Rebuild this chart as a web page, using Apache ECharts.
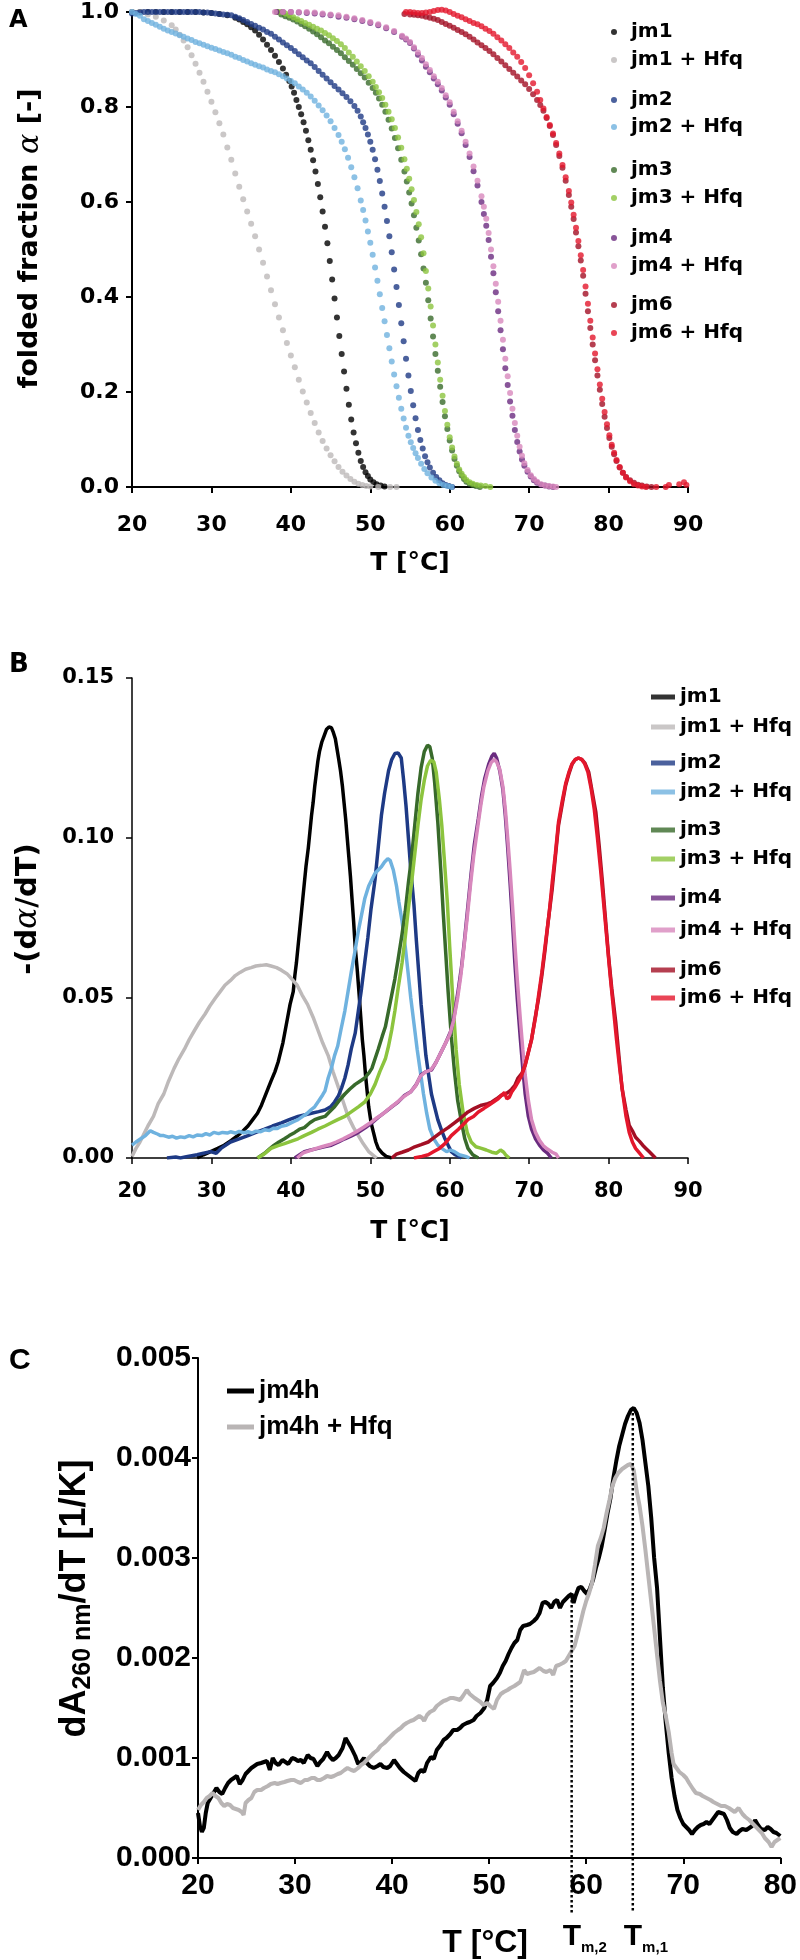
<!DOCTYPE html>
<html>
<head>
<meta charset="utf-8">
<script src="https://cdn.jsdelivr.net/npm/echarts@6/dist/echarts.min.js"></script>
<style>
  html, body { margin: 0; padding: 0; background: #fff; }
  #chart { width: 800px; height: 1960px; }
</style>
</head>
<body>
<div id="chart"></div>
<script>
// ---- series names / colours (panels A and B) ----
const seriesNames = ['jm1', 'jm1 + Hfq', 'jm2', 'jm2 + Hfq', 'jm3', 'jm3 + Hfq', 'jm4', 'jm4 + Hfq', 'jm6', 'jm6 + Hfq'];
const seriesColors = ['#000000', '#bdb9b9', '#1e3a85', '#6fb2df', '#386a2b', '#8cc43e', '#6a2b7f', '#d888bd', '#a30f24', '#e4172c'];

// ---- panel A: folded fraction alpha vs T ----
const foldJm1 = [[20,1.0],[21,1.0],[22,1.0],[23,1.0],[24,1.0],[25,1.0],[26,1.0],[27,1.0],[28,1.0],[29,0.999],[30,0.998],[31,0.996],[32,0.993],[33,0.988],[33.5,0.984],[34,0.979],[34.5,0.974],[35,0.968],[35.5,0.961],[36,0.952],[36.5,0.942],[37,0.931],[37.5,0.92],[38,0.908],[38.5,0.895],[39,0.881],[39.4,0.868],[39.8,0.855],[40.1,0.843],[40.4,0.83],[40.7,0.815],[41.0,0.8],[41.3,0.785],[41.6,0.768],[41.9,0.75],[42.2,0.73],[42.5,0.71],[42.8,0.688],[43.1,0.664],[43.4,0.638],[43.7,0.61],[44.0,0.58],[44.3,0.548],[44.6,0.513],[44.9,0.476],[45.2,0.437],[45.5,0.397],[45.8,0.357],[46.1,0.318],[46.4,0.28],[46.7,0.243],[47.0,0.207],[47.3,0.173],[47.6,0.142],[47.9,0.115],[48.2,0.092],[48.5,0.072],[48.8,0.055],[49.1,0.042],[49.4,0.031],[49.7,0.023],[50.0,0.016],[50.4,0.01],[50.8,0.006],[51.3,0.003],[51.8,0.001]];
const foldJm1Hfq = [[20,1.0],[21,1.0],[22,0.995],[23,0.99],[24,0.982],[25,0.972],[25.5,0.963],[26,0.952],[26.5,0.94],[27,0.926],[27.5,0.909],[28,0.891],[28.5,0.872],[29,0.853],[29.5,0.832],[30,0.811],[30.5,0.789],[31,0.766],[31.5,0.742],[32,0.715],[32.5,0.689],[33,0.66],[33.5,0.632],[34,0.606],[34.5,0.58],[35,0.554],[35.5,0.528],[36,0.5],[36.5,0.472],[37,0.443],[37.5,0.414],[38,0.385],[38.5,0.357],[39,0.33],[39.5,0.303],[40,0.277],[40.5,0.252],[41,0.226],[41.5,0.201],[42,0.178],[42.5,0.156],[43,0.135],[43.5,0.115],[44,0.097],[44.5,0.081],[45,0.067],[45.5,0.054],[46,0.042],[46.5,0.032],[47,0.024],[47.5,0.017],[48,0.011],[48.5,0.007],[49,0.004],[49.5,0.002],[50,0.001],[51,0.0],[52.5,0.0],[53.3,0.0]];
const foldJm2 = [[20,0.997],[20.5,0.998],[21,0.999],[21.5,1.0],[22,1.0],[22.5,1.0],[23,1.0],[23.5,1.0],[24,1.0],[24.5,1.0],[25,1.0],[25.5,1.0],[26,1.0],[26.5,1.0],[27,1.0],[27.5,1.0],[28,1.0],[28.5,1.0],[29,0.999],[29.5,0.999],[30,0.998],[30.5,0.997],[31,0.996],[31.5,0.995],[32,0.994],[32.5,0.993],[33,0.99],[33.5,0.987],[34,0.983],[34.5,0.979],[35,0.975],[35.5,0.971],[36,0.967],[36.5,0.963],[37,0.958],[37.5,0.954],[38,0.948],[38.5,0.942],[39,0.936],[39.5,0.93],[40,0.924],[40.5,0.918],[41,0.911],[41.5,0.905],[42,0.898],[42.5,0.892],[43,0.884],[43.5,0.876],[44,0.868],[44.5,0.86],[45,0.852],[45.5,0.844],[46,0.837],[46.5,0.829],[47,0.821],[47.5,0.812],[48,0.802],[48.4,0.792],[48.8,0.78],[49.1,0.768],[49.4,0.756],[49.7,0.742],[50.0,0.727],[50.3,0.71],[50.6,0.69],[50.9,0.668],[51.2,0.644],[51.5,0.618],[51.8,0.59],[52.1,0.56],[52.4,0.528],[52.7,0.494],[53.0,0.458],[53.3,0.421],[53.6,0.383],[53.9,0.345],[54.2,0.307],[54.5,0.27],[54.8,0.235],[55.1,0.202],[55.4,0.172],[55.7,0.145],[56.0,0.12],[56.3,0.099],[56.6,0.081],[56.9,0.065],[57.2,0.052],[57.5,0.041],[57.9,0.03],[58.3,0.021],[58.7,0.014],[59.1,0.008],[59.5,0.004],[59.9,0.002],[60.3,0.0]];
const foldJm2Hfq = [[20,1.0],[20.5,0.996],[21,0.992],[21.5,0.985],[22,0.981],[22.5,0.977],[23,0.973],[23.5,0.969],[24,0.965],[24.5,0.961],[25,0.958],[25.5,0.955],[26,0.951],[26.5,0.948],[27,0.944],[27.5,0.941],[28,0.937],[28.5,0.934],[29,0.931],[29.5,0.928],[30,0.925],[30.5,0.922],[31,0.919],[31.5,0.916],[32,0.913],[32.5,0.91],[33,0.906],[33.5,0.903],[34,0.899],[34.5,0.896],[35,0.892],[35.5,0.889],[36,0.886],[36.5,0.883],[37,0.879],[37.5,0.876],[38,0.873],[38.5,0.869],[39,0.865],[39.5,0.86],[40,0.855],[40.5,0.85],[41,0.843],[41.5,0.837],[42,0.83],[42.5,0.822],[43,0.813],[43.5,0.803],[44,0.793],[44.5,0.782],[45,0.77],[45.5,0.756],[46,0.741],[46.4,0.727],[46.8,0.711],[47.2,0.693],[47.6,0.673],[48.0,0.652],[48.4,0.629],[48.8,0.603],[49.1,0.583],[49.4,0.561],[49.7,0.538],[50.0,0.514],[50.3,0.489],[50.6,0.462],[50.9,0.434],[51.2,0.406],[51.5,0.377],[51.8,0.349],[52.1,0.32],[52.4,0.292],[52.7,0.264],[53.0,0.237],[53.3,0.212],[53.6,0.188],[53.9,0.165],[54.2,0.144],[54.5,0.125],[54.8,0.108],[55.1,0.094],[55.4,0.082],[55.7,0.071],[56.0,0.061],[56.4,0.049],[56.8,0.038],[57.2,0.029],[57.7,0.02],[58.2,0.013],[58.7,0.008],[59.2,0.004],[59.7,0.002],[60.2,0.0]];
const foldJm3 = [[38.3,1.0],[38.8,0.995],[39.3,0.991],[39.8,0.988],[40.3,0.984],[40.8,0.98],[41.3,0.975],[41.8,0.97],[42.3,0.965],[42.8,0.959],[43.3,0.953],[43.8,0.947],[44.3,0.94],[44.8,0.934],[45.3,0.927],[45.8,0.92],[46.3,0.913],[46.8,0.905],[47.3,0.897],[47.8,0.889],[48.3,0.88],[48.8,0.871],[49.3,0.862],[49.8,0.851],[50.3,0.84],[50.7,0.83],[51.1,0.818],[51.5,0.805],[51.9,0.79],[52.3,0.773],[52.7,0.755],[53.1,0.735],[53.5,0.713],[53.9,0.689],[54.3,0.664],[54.6,0.643],[54.9,0.62],[55.2,0.597],[55.5,0.572],[55.8,0.546],[56.1,0.519],[56.4,0.49],[56.7,0.46],[57.0,0.43],[57.3,0.393],[57.6,0.355],[57.9,0.317],[58.2,0.28],[58.5,0.245],[58.8,0.211],[59.1,0.179],[59.4,0.149],[59.7,0.122],[60.0,0.098],[60.3,0.077],[60.6,0.059],[60.9,0.045],[61.2,0.033],[61.5,0.024],[61.8,0.017],[62.1,0.011],[62.5,0.007],[62.9,0.004],[63.3,0.002],[63.8,0.0]];
const foldJm3Hfq = [[38.3,1.0],[38.8,1.0],[39.3,0.997],[39.8,0.993],[40.3,0.989],[40.8,0.985],[41.3,0.981],[41.8,0.977],[42.3,0.973],[42.8,0.969],[43.3,0.965],[43.8,0.961],[44.3,0.956],[44.8,0.951],[45.3,0.945],[45.8,0.939],[46.3,0.932],[46.8,0.924],[47.3,0.915],[47.8,0.906],[48.3,0.896],[48.8,0.886],[49.3,0.876],[49.8,0.865],[50.3,0.853],[50.7,0.842],[51.1,0.831],[51.5,0.819],[51.9,0.805],[52.3,0.79],[52.7,0.774],[53.1,0.756],[53.5,0.736],[53.9,0.714],[54.3,0.69],[54.6,0.67],[54.9,0.649],[55.2,0.627],[55.5,0.604],[55.8,0.579],[56.1,0.553],[56.4,0.526],[56.7,0.492],[57.0,0.455],[57.3,0.418],[57.6,0.38],[57.9,0.34],[58.2,0.3],[58.5,0.262],[58.8,0.226],[59.1,0.192],[59.4,0.16],[59.7,0.131],[60.0,0.105],[60.3,0.083],[60.6,0.064],[60.9,0.049],[61.2,0.037],[61.5,0.028],[61.8,0.021],[62.1,0.015],[62.5,0.01],[62.9,0.007],[63.4,0.004],[63.9,0.003],[64.5,0.002],[65.1,0.0]];
const foldJm4 = [[38.2,1.0],[39,1.0],[40,1.0],[41,0.999],[42,0.998],[43,0.997],[44,0.995],[45,0.993],[46,0.99],[47,0.988],[48,0.985],[49,0.981],[50,0.977],[51,0.972],[52,0.966],[53,0.958],[54,0.948],[54.5,0.942],[55,0.935],[55.5,0.923],[56,0.91],[56.5,0.898],[57,0.885],[57.5,0.873],[58,0.86],[58.5,0.848],[59,0.835],[59.5,0.82],[60,0.805],[60.5,0.785],[61,0.765],[61.5,0.745],[62,0.72],[62.5,0.695],[63,0.665],[63.5,0.635],[64,0.6],[64.3,0.575],[64.6,0.55],[64.9,0.52],[65.2,0.485],[65.5,0.45],[65.8,0.41],[66.1,0.37],[66.4,0.33],[66.7,0.29],[67.0,0.25],[67.3,0.215],[67.6,0.18],[67.9,0.15],[68.2,0.12],[68.5,0.095],[68.8,0.075],[69.1,0.058],[69.4,0.045],[69.8,0.032],[70.2,0.022],[70.6,0.014],[71.0,0.009],[71.5,0.005],[72.0,0.003],[72.5,0.001],[73.0,0.0]];
const foldJm4Hfq = [[38.0,1.0],[39,1.0],[40,1.0],[41,1.0],[42,1.0],[43,0.999],[44,0.997],[45,0.995],[46,0.993],[47,0.99],[48,0.987],[49,0.983],[50,0.979],[51,0.974],[52,0.968],[53,0.96],[54,0.95],[54.5,0.944],[55,0.937],[55.5,0.926],[56,0.915],[56.5,0.903],[57,0.89],[57.5,0.878],[58,0.865],[58.5,0.853],[59,0.84],[59.5,0.825],[60,0.81],[60.5,0.79],[61,0.77],[61.5,0.75],[62,0.727],[62.5,0.702],[63,0.675],[63.5,0.645],[64,0.612],[64.3,0.59],[64.6,0.565],[64.9,0.535],[65.2,0.5],[65.5,0.465],[65.8,0.428],[66.1,0.39],[66.4,0.35],[66.7,0.31],[67.0,0.27],[67.3,0.233],[67.6,0.198],[67.9,0.165],[68.2,0.135],[68.5,0.108],[68.8,0.085],[69.1,0.066],[69.4,0.05],[69.8,0.036],[70.2,0.025],[70.6,0.017],[71.0,0.011],[71.5,0.006],[72.0,0.003],[72.5,0.002],[73.0,0.001],[73.4,0.0]];
const foldJm6 = [[54.3,0.996],[55,0.995],[55.5,0.994],[56,0.993],[56.5,0.992],[57,0.99],[57.5,0.988],[58,0.986],[58.5,0.983],[59,0.979],[59.5,0.975],[60,0.971],[60.5,0.967],[61,0.962],[61.5,0.958],[62,0.953],[62.5,0.948],[63,0.942],[63.5,0.936],[64,0.93],[64.5,0.924],[65,0.918],[65.5,0.911],[66,0.903],[66.5,0.896],[67,0.888],[67.5,0.88],[68,0.872],[68.5,0.864],[69,0.856],[69.5,0.848],[70,0.838],[70.5,0.827],[71,0.815],[71.4,0.804],[71.8,0.792],[72.2,0.777],[72.6,0.76],[73.0,0.741],[73.4,0.72],[73.8,0.697],[74.2,0.672],[74.6,0.645],[75.0,0.615],[75.3,0.59],[75.6,0.564],[75.9,0.536],[76.2,0.507],[76.5,0.477],[76.8,0.445],[77.1,0.407],[77.4,0.37],[77.7,0.335],[78.0,0.3],[78.3,0.267],[78.6,0.235],[78.9,0.205],[79.2,0.175],[79.5,0.148],[79.8,0.124],[80.1,0.103],[80.4,0.085],[80.7,0.069],[81.0,0.055],[81.4,0.041],[81.8,0.03],[82.2,0.021],[82.7,0.014],[83.2,0.009],[83.7,0.005],[84.2,0.003],[84.8,0.001],[85.4,0.0]];
const foldJm6Hfq = [[54.5,1.0],[55,1.0],[55.5,0.999],[56,0.998],[56.5,0.998],[57,0.999],[57.5,1.0],[58,1.002],[58.5,1.004],[59,1.005],[59.5,1.003],[60,1.0],[60.5,0.996],[61,0.992],[61.5,0.989],[62,0.985],[62.5,0.981],[63,0.977],[63.5,0.974],[64,0.97],[64.5,0.965],[65,0.96],[65.5,0.954],[66,0.947],[66.5,0.94],[67,0.932],[67.5,0.924],[68,0.915],[68.5,0.906],[69,0.895],[69.5,0.882],[70,0.867],[70.5,0.85],[71,0.832],[71.4,0.815],[71.8,0.797],[72.2,0.779],[72.6,0.762],[73.0,0.744],[73.4,0.724],[73.8,0.702],[74.2,0.678],[74.6,0.652],[75.0,0.623],[75.3,0.599],[75.6,0.573],[75.9,0.546],[76.2,0.518],[76.5,0.488],[76.8,0.457],[77.1,0.422],[77.4,0.386],[77.7,0.35],[78.0,0.315],[78.3,0.281],[78.6,0.248],[78.9,0.216],[79.2,0.186],[79.5,0.158],[79.8,0.132],[80.1,0.109],[80.4,0.089],[80.7,0.072],[81.0,0.057],[81.4,0.042],[81.8,0.03],[82.2,0.02],[82.7,0.012],[83.2,0.006],[83.7,0.003],[84.2,0.001],[84.7,0.0],[86.0,0.0],[87.2,0.0],[87.6,0.004],[88.9,0.006],[89.5,0.01],[89.8,0.004]];
const foldSeries = [foldJm1, foldJm1Hfq, foldJm2, foldJm2Hfq, foldJm3, foldJm3Hfq, foldJm4, foldJm4Hfq, foldJm6, foldJm6Hfq];

// ---- panel B: -(d alpha / dT) vs T ----
const derivJm1 = [[28.2,0.0],[29,0.001],[29.9,0.002],[30.8,0.003],[31.6,0.004],[32.5,0.0055],[33.3,0.007],[34,0.0085],[34.6,0.01],[35.2,0.012],[35.8,0.014],[36.3,0.0165],[36.7,0.019],[37.1,0.0215],[37.5,0.024],[38.0,0.027],[38.4,0.03],[38.7,0.033],[39.0,0.036],[39.3,0.04],[39.6,0.044],[39.9,0.048],[40.3,0.052],[40.5,0.057],[40.7,0.061],[40.9,0.066],[41.1,0.071],[41.3,0.076],[41.5,0.081],[41.7,0.086],[41.9,0.091],[42.2,0.097],[42.4,0.102],[42.6,0.107],[42.8,0.111],[43.0,0.116],[43.2,0.12],[43.4,0.124],[43.6,0.127],[43.9,0.13],[44.2,0.132],[44.5,0.134],[44.8,0.1347],[45.1,0.1345],[45.35,0.133],[45.6,0.131],[45.8,0.128],[46.0,0.125],[46.25,0.121],[46.5,0.116],[46.7,0.111],[46.9,0.106],[47.1,0.1],[47.3,0.094],[47.5,0.088],[47.7,0.081],[47.9,0.074],[48.1,0.066],[48.35,0.059],[48.6,0.051],[48.8,0.044],[49.0,0.037],[49.2,0.032],[49.4,0.026],[49.6,0.021],[49.8,0.016],[50.1,0.011],[50.4,0.008],[50.7,0.005],[51.0,0.003],[51.5,0.0015],[52.0,0.0005],[52.7,0.0]];
const derivJm1Hfq = [[20,0.0005],[20.5,0.003],[21,0.005],[21.4,0.007],[22,0.01],[22.7,0.013],[23.3,0.017],[24,0.02],[24.6,0.024],[25.3,0.028],[25.9,0.031],[26.6,0.034],[27.2,0.037],[27.9,0.04],[28.5,0.0425],[29.2,0.045],[29.8,0.0475],[30.5,0.05],[31.1,0.052],[31.7,0.054],[32.4,0.0555],[33,0.057],[33.6,0.058],[34.3,0.059],[35,0.0595],[35.6,0.06],[36.3,0.0602],[36.9,0.0604],[37.5,0.06],[38.2,0.0595],[38.8,0.0587],[39.5,0.0576],[40.1,0.056],[40.8,0.054],[41.4,0.051],[42.1,0.048],[42.8,0.044],[43.4,0.04],[44.0,0.036],[44.7,0.032],[45.3,0.027],[46.0,0.022],[46.6,0.0175],[47.2,0.013],[47.9,0.0095],[48.5,0.007],[49.1,0.0045],[49.8,0.002],[50.3,0.001],[50.8,0.0]];
const derivJm2 = [[24.4,0.0],[25.5,0.0003],[26.1,0.0],[27,0.0005],[28.2,0.001],[29.0,0.0015],[29.9,0.002],[30.6,0.0015],[31.2,0.003],[32.4,0.005],[33.5,0.006],[34.6,0.007],[35.6,0.008],[36.7,0.009],[37.7,0.01],[38.8,0.011],[39.8,0.012],[40.9,0.013],[41.8,0.0135],[42.6,0.014],[43.5,0.0145],[44.3,0.015],[45.0,0.016],[45.5,0.0175],[46.0,0.0195],[46.4,0.022],[46.8,0.025],[47.2,0.029],[47.6,0.034],[48.1,0.039],[48.5,0.046],[48.9,0.053],[49.3,0.061],[49.7,0.069],[50.1,0.078],[50.6,0.087],[51.0,0.097],[51.4,0.107],[51.8,0.114],[52.3,0.121],[52.7,0.1245],[53.1,0.1264],[53.5,0.1266],[53.9,0.125],[54.2,0.118],[54.5,0.11],[54.8,0.1],[55.1,0.09],[55.5,0.079],[55.8,0.068],[56.1,0.058],[56.4,0.048],[56.7,0.04],[57.0,0.032],[57.4,0.025],[57.7,0.02],[58.1,0.016],[58.5,0.012],[59.0,0.0085],[59.4,0.006],[59.8,0.004],[60.2,0.002],[60.7,0.001],[61.5,0.0]];
const derivJm2Hfq = [[20,0.004],[20.5,0.005],[21.1,0.006],[21.7,0.007],[22.3,0.0085],[22.7,0.008],[23.2,0.0075],[23.6,0.007],[24.0,0.007],[24.6,0.0065],[25.1,0.0068],[25.6,0.0062],[26.1,0.0066],[26.6,0.0064],[27.2,0.007],[27.7,0.0066],[28.2,0.0072],[28.8,0.007],[29.3,0.0076],[29.8,0.0072],[30.3,0.008],[30.9,0.0076],[31.4,0.008],[32.0,0.0078],[32.4,0.0082],[33.0,0.0078],[33.5,0.0083],[34.1,0.0079],[34.6,0.0082],[35.1,0.0078],[35.6,0.0084],[36.2,0.0082],[36.7,0.0088],[37.3,0.0086],[37.8,0.0093],[38.3,0.0092],[38.8,0.0099],[39.4,0.0102],[39.9,0.0108],[40.4,0.0114],[40.9,0.012],[41.5,0.013],[42.0,0.0138],[42.5,0.015],[43.0,0.016],[43.5,0.0178],[44.0,0.0197],[44.3,0.021],[44.7,0.025],[45.1,0.028],[45.5,0.032],[45.9,0.035],[46.3,0.04],[46.8,0.046],[47.2,0.052],[47.6,0.058],[48.1,0.065],[48.5,0.071],[48.9,0.076],[49.3,0.081],[49.8,0.085],[50.2,0.087],[50.6,0.089],[51.0,0.09],[51.4,0.091],[51.8,0.0925],[52.2,0.0935],[52.5,0.093],[52.9,0.09],[53.3,0.085],[53.6,0.08],[54.0,0.074],[54.4,0.066],[54.8,0.057],[55.1,0.05],[55.5,0.042],[55.9,0.034],[56.3,0.027],[56.7,0.02],[57.1,0.014],[57.5,0.009],[58.0,0.006],[58.5,0.004],[59.0,0.003],[59.6,0.002],[60.1,0.0025],[60.6,0.002],[61.2,0.001],[62.0,0.0005],[62.5,0.0]];
const derivJm3 = [[35.8,0.0],[36.7,0.0015],[37.4,0.003],[37.9,0.004],[38.5,0.005],[39.2,0.006],[39.8,0.007],[40.5,0.008],[41.1,0.009],[41.7,0.0095],[42.4,0.011],[43.0,0.012],[43.6,0.0125],[44.3,0.013],[44.9,0.0145],[45.5,0.016],[46.1,0.018],[46.8,0.02],[47.4,0.0215],[48.1,0.023],[48.7,0.024],[49.3,0.025],[49.8,0.0265],[50.2,0.028],[50.6,0.031],[51.0,0.034],[51.5,0.038],[51.9,0.041],[52.3,0.046],[52.7,0.051],[53.1,0.056],[53.5,0.062],[54.0,0.07],[54.4,0.077],[54.8,0.086],[55.2,0.094],[55.6,0.104],[56.0,0.114],[56.4,0.122],[56.8,0.127],[57.2,0.129],[57.5,0.1285],[57.8,0.125],[58.1,0.1175],[58.5,0.105],[58.9,0.089],[59.2,0.076],[59.5,0.064],[59.8,0.052],[60.2,0.038],[60.6,0.027],[61.0,0.018],[61.5,0.011],[61.9,0.006],[62.3,0.003],[62.9,0.001],[63.6,0.0]];
const derivJm3Hfq = [[35.8,0.0],[36.5,0.001],[37.5,0.003],[38.3,0.0038],[39.2,0.0045],[40.0,0.0052],[40.9,0.006],[41.7,0.007],[42.6,0.008],[43.4,0.009],[44.3,0.01],[45.1,0.011],[45.9,0.012],[46.8,0.013],[47.6,0.0144],[48.5,0.016],[49.3,0.0175],[50.0,0.02],[50.6,0.023],[51.2,0.027],[51.9,0.031],[52.3,0.035],[52.7,0.04],[53.1,0.046],[53.5,0.053],[54.0,0.061],[54.4,0.069],[54.8,0.078],[55.2,0.086],[55.6,0.095],[56.0,0.104],[56.4,0.112],[56.8,0.118],[57.2,0.1225],[57.6,0.1243],[58.0,0.1238],[58.3,0.1206],[58.7,0.112],[59.0,0.104],[59.3,0.094],[59.7,0.08],[60.0,0.066],[60.4,0.049],[60.8,0.034],[61.2,0.023],[61.7,0.014],[62.2,0.008],[62.7,0.005],[63.3,0.0035],[64.0,0.003],[64.6,0.0025],[65.3,0.0018],[65.9,0.0015],[66.4,0.0025],[66.8,0.0018],[67.1,0.0008],[67.5,0.0]];
const derivJm4 = [[40.5,0.0],[41.2,0.0012],[41.7,0.002],[42.5,0.0025],[43.4,0.003],[44.2,0.0035],[45.1,0.004],[46.0,0.005],[46.8,0.006],[47.7,0.007],[48.5,0.008],[49.4,0.0095],[50.2,0.011],[51.0,0.0127],[51.9,0.0144],[52.7,0.016],[53.5,0.0175],[54.3,0.0195],[55.1,0.0207],[55.8,0.023],[56.4,0.026],[57.0,0.027],[57.7,0.0275],[58.3,0.03],[58.9,0.033],[59.5,0.036],[60.2,0.04],[60.6,0.045],[61.1,0.053],[61.5,0.06],[61.9,0.069],[62.3,0.079],[62.7,0.089],[63.1,0.098],[63.6,0.106],[64.0,0.113],[64.4,0.1185],[64.9,0.123],[65.3,0.1255],[65.6,0.1265],[65.9,0.125],[66.3,0.121],[66.7,0.115],[67.0,0.107],[67.3,0.097],[67.6,0.086],[67.9,0.074],[68.2,0.061],[68.5,0.05],[68.9,0.037],[69.2,0.028],[69.5,0.02],[69.9,0.013],[70.3,0.009],[70.8,0.006],[71.3,0.004],[71.8,0.0025],[72.3,0.0015],[72.8,0.0]];
const derivJm4Hfq = [[40.8,0.0],[41.5,0.0015],[42.3,0.0022],[43.2,0.003],[44.0,0.0036],[44.9,0.0042],[45.7,0.005],[46.6,0.006],[47.5,0.0072],[48.3,0.0083],[49.2,0.0097],[50.0,0.011],[50.8,0.0125],[51.7,0.014],[52.5,0.0157],[53.3,0.0172],[54.1,0.019],[55.0,0.0205],[55.7,0.0225],[56.3,0.0255],[56.9,0.0268],[57.6,0.0275],[58.2,0.0295],[58.8,0.0325],[59.4,0.0355],[60.0,0.0385],[60.5,0.043],[61.0,0.05],[61.4,0.057],[61.8,0.066],[62.2,0.075],[62.6,0.085],[63.0,0.094],[63.5,0.103],[63.9,0.11],[64.3,0.116],[64.8,0.121],[65.2,0.1235],[65.6,0.1245],[65.9,0.1238],[66.3,0.1215],[66.7,0.116],[67.0,0.109],[67.3,0.1],[67.6,0.09],[67.9,0.079],[68.2,0.067],[68.5,0.056],[68.9,0.043],[69.2,0.034],[69.5,0.026],[69.9,0.018],[70.3,0.012],[70.8,0.008],[71.3,0.0055],[71.8,0.0038],[72.3,0.0028],[72.9,0.0018],[73.4,0.0012],[73.7,0.0]];
const derivJm6 = [[52.7,0.0],[53.3,0.0012],[54.0,0.0018],[54.8,0.0025],[55.6,0.0035],[56.4,0.0042],[57.3,0.005],[58.1,0.0065],[58.9,0.008],[59.8,0.0095],[60.6,0.011],[61.4,0.0125],[62.3,0.0144],[63.1,0.0155],[64.0,0.0165],[64.8,0.017],[65.3,0.0175],[65.9,0.0185],[66.5,0.0196],[67.0,0.02],[67.4,0.0206],[67.8,0.0215],[68.2,0.0227],[68.6,0.025],[69.1,0.0265],[69.5,0.029],[69.9,0.033],[70.3,0.037],[70.7,0.043],[71.2,0.05],[71.6,0.057],[72.0,0.065],[72.4,0.074],[72.9,0.084],[73.3,0.094],[73.7,0.104],[74.2,0.111],[74.6,0.1165],[75.0,0.12],[75.4,0.123],[75.8,0.1245],[76.2,0.125],[76.6,0.1246],[77.0,0.1235],[77.5,0.1206],[77.9,0.115],[78.4,0.108],[78.8,0.098],[79.2,0.087],[79.6,0.075],[80.0,0.063],[80.4,0.053],[80.9,0.0425],[81.3,0.032],[81.7,0.0217],[82.2,0.015],[82.6,0.0102],[83.0,0.0085],[83.4,0.0065],[83.9,0.0052],[84.3,0.004],[84.7,0.003],[85.1,0.002],[85.5,0.001],[85.9,0.0]];
const derivJm6Hfq = [[55.5,0.0],[56.5,0.0005],[57.3,0.001],[58.0,0.002],[58.7,0.003],[59.4,0.0045],[60.2,0.007],[61.1,0.009],[61.7,0.0105],[62.3,0.012],[63.0,0.013],[63.6,0.0144],[64.3,0.0155],[64.9,0.0165],[65.5,0.0175],[66.1,0.0185],[66.5,0.0195],[66.9,0.0205],[67.2,0.0185],[67.5,0.019],[67.8,0.0206],[68.2,0.022],[68.6,0.0237],[69.0,0.0255],[69.5,0.029],[69.9,0.033],[70.3,0.037],[70.8,0.044],[71.2,0.051],[71.6,0.058],[72.0,0.066],[72.5,0.076],[72.9,0.086],[73.3,0.095],[73.7,0.105],[74.2,0.112],[74.6,0.117],[75.0,0.1205],[75.4,0.1232],[75.8,0.1245],[76.2,0.125],[76.6,0.1246],[77.0,0.1232],[77.4,0.1206],[77.8,0.1155],[78.2,0.109],[78.6,0.1],[79.0,0.09],[79.4,0.079],[79.8,0.068],[80.2,0.057],[80.6,0.047],[81.0,0.037],[81.4,0.028],[81.8,0.02],[82.2,0.013],[82.6,0.008],[83.0,0.005],[83.4,0.003],[83.9,0.0015],[84.4,0.0]];
const derivSeries = [derivJm1, derivJm1Hfq, derivJm2, derivJm2Hfq, derivJm3, derivJm3Hfq, derivJm4, derivJm4Hfq, derivJm6, derivJm6Hfq];

// ---- panel C: dA260/dT vs T ----
const namesC = ['jm4h', 'jm4h + Hfq'];
const colorsC = ['#000000', '#b9b5b5'];
const dAJm4h = [[20.0,0.00045],[20.2,0.00032],[20.4,0.00026],[20.6,0.0003],[20.8,0.00045],[21.0,0.00055],[21.3,0.0006],[21.6,0.00065],[21.9,0.0007],[22.2,0.00066],[22.5,0.00064],[22.8,0.0007],[23.1,0.00075],[23.4,0.00078],[23.7,0.0008],[24.0,0.00082],[24.3,0.00074],[24.6,0.00078],[24.9,0.00084],[25.2,0.00087],[25.5,0.0009],[25.8,0.00092],[26.1,0.00094],[26.5,0.00095],[26.8,0.00096],[27.1,0.00097],[27.4,0.00088],[27.7,0.001],[28.0,0.00095],[28.3,0.00093],[28.7,0.00098],[29.0,0.00096],[29.3,0.00094],[29.7,0.001],[30.0,0.00099],[30.3,0.00097],[30.6,0.00098],[30.9,0.00095],[31.3,0.00103],[31.6,0.001],[31.9,0.00099],[32.3,0.00092],[32.6,0.00096],[32.9,0.00099],[33.3,0.00106],[33.6,0.00101],[33.9,0.00098],[34.2,0.001],[34.5,0.00103],[34.9,0.0011],[35.2,0.0012],[35.5,0.00115],[35.8,0.0011],[36.2,0.00102],[36.5,0.00094],[36.8,0.00096],[37.1,0.001],[37.4,0.00095],[37.7,0.00092],[38.1,0.0009],[38.5,0.00092],[38.8,0.00094],[39.1,0.00091],[39.5,0.0009],[39.8,0.00092],[40.2,0.00098],[40.5,0.00094],[40.8,0.0009],[41.2,0.00086],[41.6,0.00083],[42.0,0.0008],[42.4,0.00077],[42.7,0.00085],[43.0,0.00088],[43.3,0.00086],[43.6,0.00095],[44.0,0.00101],[44.3,0.00099],[44.6,0.00108],[45.0,0.00113],[45.3,0.00118],[45.6,0.0012],[46.0,0.00124],[46.3,0.00128],[46.7,0.00128],[47.0,0.0013],[47.3,0.00133],[47.7,0.00135],[48.0,0.00136],[48.4,0.00138],[48.7,0.00142],[49.1,0.00145],[49.5,0.0015],[49.8,0.00158],[50.1,0.00172],[50.4,0.00175],[50.8,0.0018],[51.1,0.00185],[51.4,0.00192],[51.7,0.00197],[52.0,0.00204],[52.3,0.0021],[52.6,0.00215],[52.9,0.00218],[53.2,0.00228],[53.5,0.00232],[53.9,0.00233],[54.2,0.00234],[54.6,0.00237],[54.9,0.0024],[55.2,0.00245],[55.5,0.00255],[55.8,0.00256],[56.1,0.00254],[56.4,0.0025],[56.7,0.00256],[57.0,0.00258],[57.3,0.0025],[57.6,0.00256],[57.9,0.00259],[58.2,0.00262],[58.5,0.00264],[58.7,0.00255],[58.9,0.00262],[59.2,0.0027],[59.5,0.00271],[59.8,0.00267],[60.1,0.00264],[60.4,0.0027],[60.7,0.00278],[61.0,0.0029],[61.3,0.003],[61.6,0.00312],[61.9,0.00328],[62.2,0.00345],[62.5,0.0036],[62.8,0.0038],[63.1,0.00397],[63.4,0.00412],[63.7,0.00423],[64.0,0.00434],[64.3,0.00442],[64.6,0.00448],[64.9,0.0045],[65.2,0.00445],[65.5,0.00435],[65.8,0.00418],[66.1,0.00395],[66.4,0.00372],[66.7,0.0034],[67.0,0.003],[67.3,0.0027],[67.6,0.0022],[67.9,0.0017],[68.2,0.00135],[68.5,0.00105],[68.8,0.0008],[69.1,0.00062],[69.4,0.00048],[69.7,0.0004],[70.0,0.00034],[70.3,0.00031],[70.6,0.00028],[70.9,0.00024],[71.2,0.00028],[71.5,0.00031],[71.8,0.00033],[72.1,0.00034],[72.4,0.00036],[72.7,0.00034],[73.0,0.00038],[73.3,0.00042],[73.6,0.00046],[73.9,0.00045],[74.2,0.00044],[74.5,0.00038],[74.8,0.0003],[75.1,0.00026],[75.5,0.00024],[75.8,0.00027],[76.1,0.00029],[76.5,0.00028],[76.8,0.0003],[77.1,0.00032],[77.4,0.00038],[77.7,0.00033],[78.0,0.00029],[78.4,0.00028],[78.7,0.00031],[79.0,0.00029],[79.3,0.00026],[79.6,0.00025],[80.0,0.00022]];
const dAJm4hHfq = [[20.0,0.00048],[20.3,0.00053],[20.6,0.00056],[20.9,0.0006],[21.2,0.00062],[21.5,0.00065],[21.8,0.00062],[22.1,0.0006],[22.4,0.00055],[22.7,0.00052],[23.0,0.00054],[23.3,0.00053],[23.6,0.0005],[23.9,0.00049],[24.2,0.00048],[24.5,0.00046],[24.7,0.00043],[24.9,0.00055],[25.2,0.00058],[25.5,0.0006],[25.8,0.00066],[26.1,0.00068],[26.5,0.00068],[26.8,0.0007],[27.2,0.00072],[27.5,0.00074],[27.9,0.00075],[28.2,0.00074],[28.5,0.00075],[28.9,0.00076],[29.2,0.00077],[29.6,0.00078],[29.9,0.00078],[30.3,0.00076],[30.6,0.00075],[31.0,0.00078],[31.3,0.00078],[31.7,0.0008],[32.0,0.0008],[32.3,0.00078],[32.6,0.00078],[33.0,0.0008],[33.3,0.00082],[33.7,0.00081],[34.0,0.00082],[34.4,0.00084],[34.7,0.00085],[35.1,0.00088],[35.4,0.0009],[35.8,0.00088],[36.1,0.00087],[36.5,0.0009],[36.8,0.00093],[37.1,0.00095],[37.4,0.00098],[37.8,0.00102],[38.1,0.00105],[38.5,0.00108],[38.8,0.00112],[39.2,0.00115],[39.5,0.00118],[39.9,0.00122],[40.2,0.00125],[40.6,0.00128],[40.9,0.0013],[41.2,0.00133],[41.5,0.00135],[41.9,0.00137],[42.2,0.00138],[42.5,0.0014],[42.8,0.00142],[43.1,0.0014],[43.3,0.00137],[43.6,0.00143],[43.9,0.00146],[44.3,0.00148],[44.6,0.00152],[45.0,0.00155],[45.3,0.00157],[45.6,0.00158],[46.0,0.0016],[46.3,0.0016],[46.7,0.00159],[47.0,0.00158],[47.3,0.00162],[47.7,0.00168],[48.0,0.00164],[48.2,0.00162],[48.5,0.0016],[48.8,0.00158],[49.1,0.00156],[49.4,0.00153],[49.8,0.00155],[50.1,0.00152],[50.5,0.00149],[50.8,0.00158],[51.2,0.00164],[51.5,0.00166],[51.9,0.00168],[52.2,0.0017],[52.6,0.00172],[52.9,0.00174],[53.2,0.00176],[53.6,0.00188],[53.9,0.00184],[54.2,0.00185],[54.6,0.00186],[54.9,0.00188],[55.2,0.0019],[55.6,0.00187],[55.9,0.00186],[56.3,0.00188],[56.6,0.00183],[56.9,0.00192],[57.2,0.00193],[57.6,0.00195],[57.9,0.00197],[58.2,0.00202],[58.5,0.00207],[58.8,0.00212],[59.1,0.00223],[59.4,0.00235],[59.7,0.00247],[60.0,0.00257],[60.3,0.00265],[60.6,0.00275],[60.9,0.00293],[61.2,0.00312],[61.5,0.0032],[61.8,0.0033],[62.1,0.00345],[62.4,0.00358],[62.7,0.00372],[63.0,0.0038],[63.3,0.00385],[63.7,0.00389],[64.0,0.00391],[64.3,0.00393],[64.6,0.00394],[64.9,0.00388],[65.2,0.00367],[65.5,0.00352],[65.8,0.00332],[66.1,0.00308],[66.4,0.00282],[66.7,0.00256],[67.0,0.0023],[67.3,0.00203],[67.6,0.00177],[67.9,0.00155],[68.2,0.00142],[68.5,0.00126],[68.8,0.00105],[69.0,0.00094],[69.3,0.0009],[69.6,0.00086],[70.0,0.00083],[70.3,0.0008],[70.6,0.00075],[71.0,0.00069],[71.3,0.00065],[71.7,0.00064],[72.0,0.00062],[72.4,0.0006],[72.8,0.00058],[73.1,0.00056],[73.5,0.00054],[73.9,0.00052],[74.3,0.00052],[74.7,0.0005],[75.0,0.00048],[75.3,0.00046],[75.7,0.0005],[76.1,0.00044],[76.4,0.00041],[76.8,0.00038],[77.1,0.00035],[77.5,0.00031],[77.8,0.00028],[78.1,0.00025],[78.4,0.0002],[78.8,0.00016],[79.1,0.00011],[79.4,0.00016],[79.7,0.00018],[80.0,0.0002]];
const seriesC = [dAJm4h, dAJm4hHfq];
// dotted melting-temperature markers (top at curve, bottom just below the T axis)
const tm2Line = [[58.5, 0.00258], [58.5, -0.00055]];
const tm1Line = [[64.8, 0.0045], [64.8, -0.00055]];
const tmLabels = ['m,2', 'm,1'];

// ---- layout / style ----
const FONT_AB = 'DejaVu Sans';
const FONT_C = 'Liberation Sans';
const legendCentersA = [32, 60, 100, 127, 170, 198, 238, 266, 305, 333];
const legendCentersB = [697, 727, 763, 792, 830, 859, 898, 930, 970, 998];
const legendCentersC = [1391, 1427];

function axisBase(font, size, margin, width) {
  return {
    axisLine: { show: true, onZero: false, lineStyle: { color: '#000', width: width } },
    axisTick: { show: true, length: 6, lineStyle: { color: '#000', width: width } },
    axisLabel: { fontFamily: font, fontWeight: 'bold', fontSize: size, color: '#000', margin: margin },
    splitLine: { show: false }
  };
}

function makeLegends(names, centers, cfg) {
  return names.map((name, i) => ({
    data: [name],
    left: cfg.left,
    top: centers[i] - cfg.lineHeight / 2,
    orient: 'vertical',
    padding: 0,
    icon: cfg.icon,
    itemWidth: cfg.itemWidth,
    itemHeight: cfg.itemHeight,
    selectedMode: false,
    textStyle: { fontFamily: cfg.font, fontWeight: 'bold', fontSize: cfg.fontSize, lineHeight: cfg.lineHeight, color: '#000' }
  }));
}

const chart = echarts.init(document.getElementById('chart'), null, { renderer: 'canvas' });

const series = [];
foldSeries.forEach((data, i) => {
  series.push({
    name: seriesNames[i], type: 'scatter', xAxisIndex: 0, yAxisIndex: 0,
    clip: false, symbolSize: 6, itemStyle: { color: seriesColors[i] }, data: data
  });
});
derivSeries.forEach((data, i) => {
  series.push({
    name: seriesNames[i], type: 'line', xAxisIndex: 1, yAxisIndex: 1,
    showSymbol: false, lineStyle: { color: seriesColors[i], width: 3.5 },
    itemStyle: { color: seriesColors[i] }, data: data
  });
});
seriesC.forEach((data, i) => {
  series.push({
    name: namesC[i], type: 'line', xAxisIndex: 2, yAxisIndex: 2,
    showSymbol: false, lineStyle: { color: colorsC[i], width: 4 },
    itemStyle: { color: colorsC[i] }, data: data
  });
});
[tm2Line, tm1Line].forEach((line, i) => {
  const pts = line.map((p, j) => j === line.length - 1 ? {
    value: p,
    label: {
      show: true, position: 'bottom', distance: 6, align: 'left', offset: [-9, 0],
      formatter: '{t|T}{s|' + tmLabels[i] + '}',
      rich: {
        t: { fontFamily: FONT_C, fontWeight: 'bold', fontSize: 30, color: '#000', lineHeight: 36 },
        s: { fontFamily: FONT_C, fontWeight: 'bold', fontSize: 15, color: '#000', lineHeight: 36, verticalAlign: 'bottom' }
      }
    }
  } : p);
  series.push({
    name: 'Tm' + (i + 1), type: 'line', xAxisIndex: 2, yAxisIndex: 2,
    clip: false, showSymbol: true, symbol: 'circle', symbolSize: 0, silent: true,
    itemStyle: { color: 'rgba(0,0,0,0)' },
    label: { show: false },
    lineStyle: { color: '#000', width: 2.5, type: 'dotted' }, data: pts, z: 5
  });
});

const option = {
  backgroundColor: '#ffffff',
  animation: false,
  title: [
    { text: 'A', left: 9, top: 9, padding: 0, textStyle: { fontFamily: FONT_AB, fontWeight: 'bold', fontSize: 24, color: '#000' } },
    { text: 'B', left: 9, top: 652, padding: 0, textStyle: { fontFamily: FONT_AB, fontWeight: 'bold', fontSize: 26, color: '#000' } },
    { text: 'C', left: 9, top: 1346, padding: 0, textStyle: { fontFamily: FONT_C, fontWeight: 'bold', fontSize: 30, color: '#000' } }
  ],
  grid: [
    { left: 132, top: 12, width: 556, height: 475 },
    { left: 132, top: 678, width: 556, height: 480 },
    { left: 198, top: 1358, width: 585, height: 503 }
  ],
  xAxis: [
    Object.assign(axisBase(FONT_AB, 22, 27, 2), {
      gridIndex: 0, type: 'value', min: 20, max: 90, interval: 10,
      name: 'T [°C]', nameLocation: 'middle', nameGap: 64,
      nameTextStyle: { fontFamily: FONT_AB, fontWeight: 'bold', fontSize: 25, color: '#000' }
    }),
    Object.assign(axisBase(FONT_AB, 21, 23, 1.5), {
      gridIndex: 1, type: 'value', min: 20, max: 90, interval: 10,
      name: 'T [°C]', nameLocation: 'middle', nameGap: 61,
      nameTextStyle: { fontFamily: FONT_AB, fontWeight: 'bold', fontSize: 25, color: '#000' }
    }),
    Object.assign(axisBase(FONT_C, 30, 13, 2), {
      gridIndex: 2, type: 'value', min: 20, max: 80, interval: 10,
      name: 'T [°C]', nameLocation: 'middle', nameGap: 69,
      nameTextStyle: { fontFamily: FONT_C, fontWeight: 'bold', fontSize: 32, color: '#000', padding: [0, 8, 0, 0] }
    })
  ],
  yAxis: [
    Object.assign(axisBase(FONT_AB, 22, 13, 2), {
      gridIndex: 0, type: 'value', min: 0, max: 1, interval: 0.2,
      name: '{t|folded fraction }{a|α}{t| [-]}', nameLocation: 'middle', nameGap: 86,
      nameTextStyle: {
        padding: [0, 0, 0, 22],
        rich: {
          t: { fontFamily: FONT_AB, fontWeight: 'bold', fontSize: 27, color: '#000', lineHeight: 32 },
          a: { fontFamily: 'DejaVu Serif', fontStyle: 'italic', fontWeight: 'normal', fontSize: 30, color: '#000', lineHeight: 32 }
        }
      }
    }),
    Object.assign(axisBase(FONT_AB, 21, 18, 1.5), {
      gridIndex: 1, type: 'value', min: 0, max: 0.15, interval: 0.05,
      name: '{t|-(d}{a|α}{t|/dT)}', nameLocation: 'middle', nameGap: 87,
      nameTextStyle: {
        padding: [0, 0, 0, 18],
        rich: {
          t: { fontFamily: FONT_AB, fontWeight: 'bold', fontSize: 29, color: '#000', lineHeight: 34 },
          a: { fontFamily: 'DejaVu Serif', fontStyle: 'italic', fontWeight: 'normal', fontSize: 31, color: '#000', lineHeight: 34 }
        }
      }
    }),
    Object.assign(axisBase(FONT_C, 30, 7, 2), {
      gridIndex: 2, type: 'value', min: 0, max: 0.005, interval: 0.001,
      name: '{m|dA}{s|260 nm}{m|/dT [1/K]}', nameLocation: 'middle', nameGap: 102,
      nameTextStyle: {
        padding: [0, 0, 0, 19],
        rich: {
          m: { fontFamily: FONT_C, fontWeight: 'bold', fontSize: 36, color: '#000', lineHeight: 42 },
          s: { fontFamily: FONT_C, fontWeight: 'bold', fontSize: 25, color: '#000', lineHeight: 42, verticalAlign: 'bottom' }
        }
      }
    })
  ],
  legend: [].concat(
    makeLegends(seriesNames, legendCentersA, { left: 611, icon: 'circle', itemWidth: 24, itemHeight: 6, font: FONT_AB, fontSize: 20, lineHeight: 24 }),
    makeLegends(seriesNames, legendCentersB, { left: 651, icon: 'rect', itemWidth: 24, itemHeight: 5, font: FONT_AB, fontSize: 20, lineHeight: 24 }),
    makeLegends(namesC, legendCentersC, { left: 227, icon: 'rect', itemWidth: 27, itemHeight: 5, font: FONT_C, fontSize: 26, lineHeight: 30 })
  ),
  series: series
};

// axis label number formats
option.yAxis[0].axisLabel.formatter = v => v.toFixed(1);
option.yAxis[1].axisLabel.formatter = v => v.toFixed(2);
option.yAxis[2].axisLabel.formatter = v => v.toFixed(3);

chart.setOption(option);
</script>
</body>
</html>
